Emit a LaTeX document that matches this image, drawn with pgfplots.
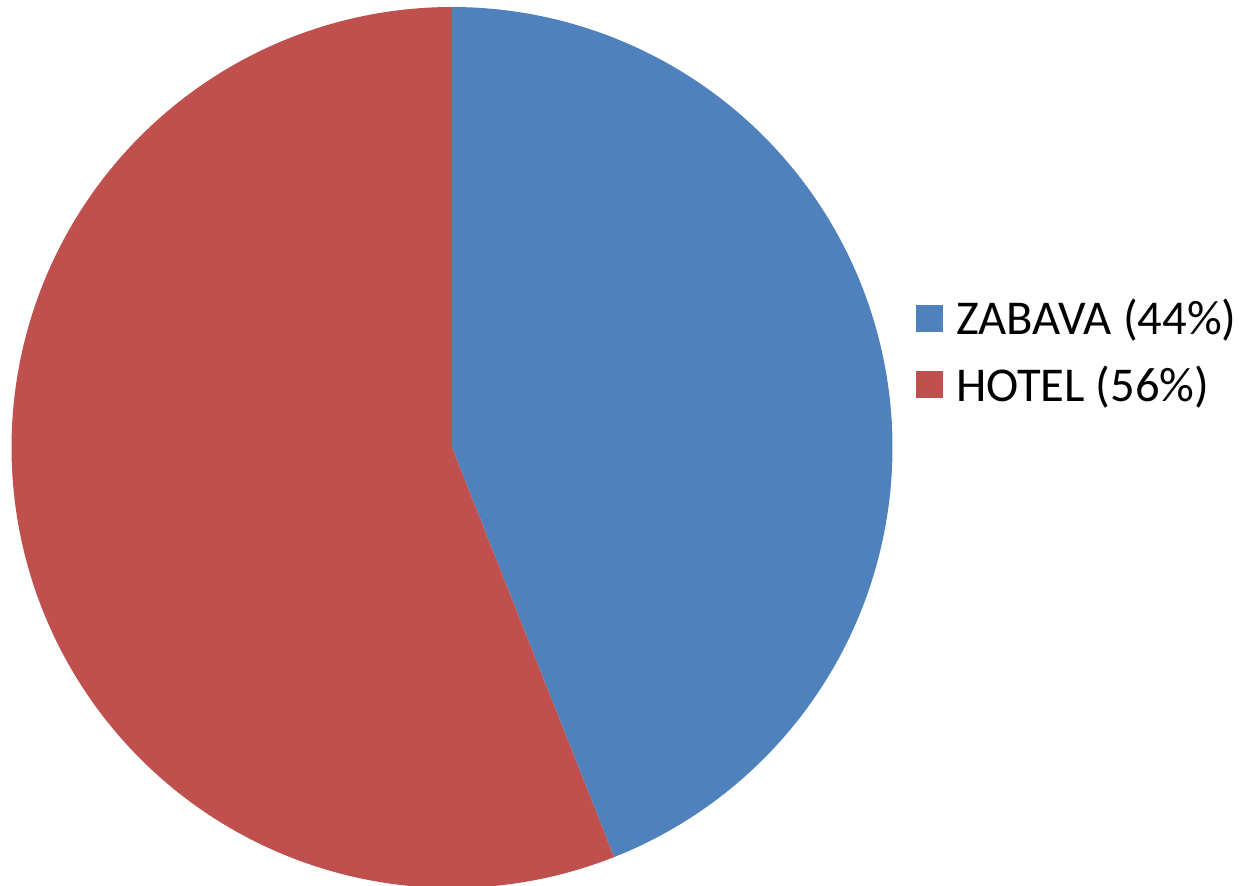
\documentclass[border=0pt]{standalone}
\usepackage{pgfplots}
\pgfplotsset{compat=1.18}
\usepackage{fontspec}
\setmainfont{Carlito}
\definecolor{zblue}{HTML}{4F81BD}
\definecolor{hred}{HTML}{C0504D}
% shares in percent
\def\shareZabava{44}
\def\shareHotel{56}
\begin{document}
\begin{tikzpicture}
\pgfmathsetmacro{\aStart}{90-3.6*\shareZabava}
\pgfmathsetmacro{\aEnd}{90+3.6*\shareHotel}
\begin{axis}[
  at={(310.5pt,221.5pt)}, anchor=center,
  width=621pt, height=443pt, scale only axis,
  xmin=0, xmax=1242, ymin=0, ymax=886, y dir=reverse,
  hide axis, clip=true,
  legend style={at={(axis cs:916,351.5)}, anchor=west, draw=none, fill=none,
    font=\fontsize{24.3}{29}\selectfont, inner sep=0pt, outer sep=0pt,
    row sep=10pt, cells={anchor=west}},
  legend cell align=left,
  legend image code/.code={\path[draw=none,fill=none] (0pt,0pt) rectangle (18pt,0.1pt);\fill[#1] (0pt,-6.75pt) rectangle (13.5pt,6.75pt);},
]
\addplot[fill=zblue, draw=none, domain=\aStart:90, samples=240]
  ({452+440.5*cos(x)},{447.5-440.5*sin(x)}) -- (axis cs:452,447.5) -- cycle;
\addlegendentry{ZABAVA (44\%)}
\addplot[fill=hred, draw=none, domain=90:\aEnd, samples=300]
  ({452+440.5*cos(x)},{447.5-440.5*sin(x)}) -- (axis cs:452,447.5) -- cycle;
\addlegendentry{HOTEL (56\%)}
\end{axis}
\pgfresetboundingbox
\path[use as bounding box] (0,0) rectangle (621pt,443pt);
\end{tikzpicture}
\end{document}
